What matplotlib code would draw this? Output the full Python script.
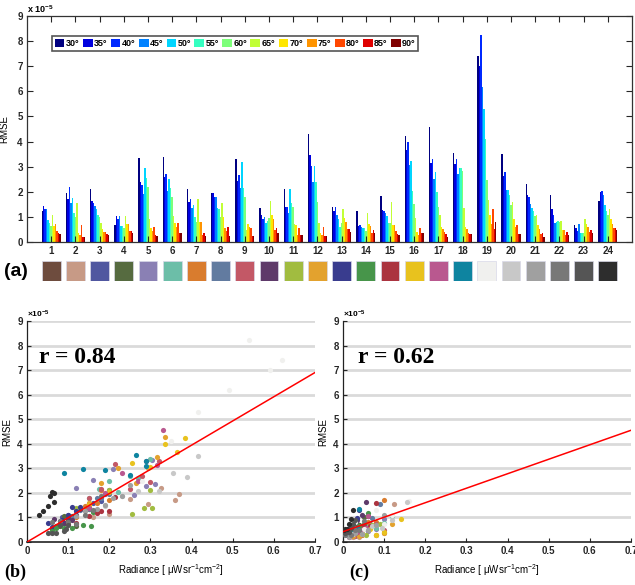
import numpy as np
import matplotlib.pyplot as plt

plt.rcParams['font.family'] = ['Liberation Sans', 'DejaVu Sans']
plt.rcParams['font.weight'] = 'bold'
plt.rcParams['mathtext.default'] = 'regular'
plt.rcParams['axes.linewidth'] = 0.9

# viewing angles, one bar per angle inside each group
angles = [30, 35, 40, 45, 50, 55, 60, 65, 70, 75, 80, 85, 90]
groups = np.arange(1, 25)

# RMSE (x 1e-5), one row per group, one column per angle
rmse = np.array([
    [1.25, 1.44, 1.33, 1.33, 0.88, 0.77, 0.64, 1.07, 0.64, 0.70, 0.45, 0.35, 0.32],
    [1.94, 1.70, 2.20, 1.54, 1.74, 1.14, 1.00, 1.54, 0.37, 0.28, 0.66, 0.19, 0.19],
    [2.11, 1.65, 1.57, 1.43, 1.30, 1.08, 1.00, 0.74, 0.52, 0.41, 0.39, 0.32, 0.28],
    [0.66, 1.04, 0.90, 1.04, 0.64, 0.64, 0.54, 1.02, 0.70, 0.73, 0.45, 0.42, 0.37],
    [3.33, 2.38, 2.27, 1.91, 2.96, 2.54, 2.20, 0.93, 0.54, 0.45, 0.58, 0.26, 0.24],
    [3.37, 2.60, 2.70, 2.05, 2.50, 2.14, 1.78, 1.04, 0.77, 0.58, 0.74, 0.35, 0.35],
    [2.10, 1.60, 1.70, 1.34, 1.47, 1.00, 0.81, 1.70, 0.81, 0.81, 0.28, 0.37, 0.24],
    [1.97, 1.94, 1.80, 1.80, 1.34, 1.30, 0.98, 1.54, 0.98, 0.54, 0.44, 0.61, 0.24],
    [3.30, 2.44, 2.67, 2.14, 3.18, 2.14, 1.78, 0.48, 0.72, 0.58, 0.54, 0.24, 0.24],
    [1.34, 1.08, 0.90, 0.98, 0.77, 0.85, 0.94, 1.64, 1.08, 0.90, 0.48, 0.54, 0.35],
    [2.12, 1.38, 1.38, 1.14, 2.11, 1.57, 1.38, 0.72, 0.68, 0.28, 0.54, 0.27, 0.27],
    [4.29, 3.45, 3.03, 2.40, 3.03, 2.40, 1.60, 0.74, 0.35, 0.28, 0.58, 0.24, 0.24],
    [1.41, 1.25, 1.41, 1.08, 0.90, 0.61, 0.77, 1.31, 0.96, 0.81, 0.52, 0.52, 0.41],
    [1.22, 0.64, 0.69, 0.58, 0.56, 0.56, 0.45, 1.17, 0.72, 0.64, 0.37, 0.48, 0.35],
    [1.83, 1.27, 1.25, 1.17, 1.04, 0.77, 0.74, 1.58, 0.66, 0.66, 0.42, 0.32, 0.27],
    [4.22, 3.65, 4.00, 3.05, 3.22, 2.05, 1.50, 0.94, 0.41, 0.28, 0.54, 0.37, 0.37],
    [4.57, 3.14, 3.30, 2.50, 2.80, 2.00, 1.40, 1.07, 0.58, 0.50, 0.40, 0.32, 0.19],
    [3.53, 3.11, 3.30, 2.71, 2.93, 2.96, 2.83, 1.34, 0.58, 0.50, 0.37, 0.32, 0.32],
    [7.41, 6.99, 8.24, 6.17, 5.30, 4.10, 2.48, 1.68, 1.09, 0.73, 1.31, 0.52, 0.80],
    [3.49, 2.63, 2.80, 2.09, 2.09, 1.87, 1.47, 1.61, 0.90, 0.58, 0.66, 0.32, 0.32],
    [2.31, 1.86, 1.78, 1.51, 1.34, 1.25, 1.04, 1.08, 0.68, 0.50, 0.32, 0.37, 0.21],
    [1.86, 1.30, 1.09, 0.74, 0.81, 0.85, 0.81, 0.85, 0.48, 0.48, 0.28, 0.41, 0.28],
    [0.68, 0.54, 0.45, 0.70, 0.35, 0.35, 0.37, 0.90, 0.72, 0.58, 0.41, 0.48, 0.37],
    [1.63, 2.00, 2.05, 1.86, 1.47, 1.25, 1.08, 1.30, 0.93, 0.72, 0.54, 0.54, 0.48],
])

# radiance (uW sr-1 cm-2), same layout as rmse
radiance = np.array([
    [0.160, 0.150, 0.130, 0.120, 0.100, 0.090, 0.075, 0.060, 0.050, 0.040, 0.030, 0.020, 0.012],
    [0.370, 0.360, 0.325, 0.295, 0.250, 0.200, 0.160, 0.125, 0.100, 0.080, 0.060, 0.040, 0.025],
    [0.200, 0.180, 0.160, 0.145, 0.120, 0.100, 0.085, 0.065, 0.050, 0.040, 0.030, 0.020, 0.010],
    [0.120, 0.110, 0.100, 0.090, 0.080, 0.070, 0.060, 0.050, 0.040, 0.033, 0.025, 0.015, 0.010],
    [0.305, 0.310, 0.290, 0.260, 0.210, 0.160, 0.120, 0.100, 0.080, 0.060, 0.045, 0.030, 0.020],
    [0.300, 0.270, 0.250, 0.220, 0.200, 0.175, 0.150, 0.120, 0.100, 0.080, 0.060, 0.040, 0.025],
    [0.180, 0.170, 0.200, 0.150, 0.140, 0.120, 0.100, 0.100, 0.080, 0.060, 0.045, 0.030, 0.020],
    [0.200, 0.190, 0.180, 0.170, 0.150, 0.130, 0.110, 0.090, 0.070, 0.055, 0.040, 0.025, 0.015],
    [0.320, 0.300, 0.280, 0.250, 0.215, 0.180, 0.150, 0.100, 0.080, 0.060, 0.045, 0.030, 0.020],
    [0.130, 0.120, 0.110, 0.100, 0.090, 0.080, 0.065, 0.055, 0.045, 0.035, 0.025, 0.018, 0.010],
    [0.300, 0.305, 0.285, 0.255, 0.200, 0.150, 0.120, 0.090, 0.070, 0.055, 0.040, 0.025, 0.015],
    [0.335, 0.315, 0.295, 0.265, 0.220, 0.180, 0.150, 0.120, 0.100, 0.080, 0.060, 0.040, 0.025],
    [0.130, 0.120, 0.110, 0.100, 0.085, 0.060, 0.050, 0.040, 0.035, 0.030, 0.020, 0.015, 0.010],
    [0.160, 0.155, 0.135, 0.110, 0.090, 0.070, 0.060, 0.060, 0.050, 0.040, 0.030, 0.020, 0.012],
    [0.215, 0.200, 0.180, 0.170, 0.150, 0.120, 0.100, 0.080, 0.065, 0.050, 0.035, 0.025, 0.015],
    [0.385, 0.365, 0.335, 0.300, 0.255, 0.200, 0.150, 0.140, 0.100, 0.080, 0.065, 0.045, 0.025],
    [0.330, 0.315, 0.290, 0.270, 0.230, 0.190, 0.150, 0.060, 0.055, 0.045, 0.035, 0.025, 0.015],
    [0.265, 0.290, 0.290, 0.250, 0.190, 0.135, 0.090, 0.040, 0.035, 0.030, 0.020, 0.015, 0.010],
    [0.620, 0.590, 0.540, 0.490, 0.415, 0.350, 0.280, 0.160, 0.120, 0.100, 0.080, 0.050, 0.030],
    [0.415, 0.390, 0.355, 0.320, 0.270, 0.230, 0.190, 0.155, 0.120, 0.095, 0.070, 0.045, 0.025],
    [0.250, 0.230, 0.210, 0.190, 0.170, 0.140, 0.120, 0.100, 0.080, 0.060, 0.045, 0.030, 0.015],
    [0.180, 0.160, 0.140, 0.120, 0.100, 0.080, 0.060, 0.050, 0.040, 0.030, 0.020, 0.012, 0.006],
    [0.100, 0.095, 0.090, 0.080, 0.070, 0.060, 0.050, 0.030, 0.025, 0.020, 0.015, 0.010, 0.005],
    [0.065, 0.065, 0.060, 0.055, 0.050, 0.040, 0.030, 0.025, 0.020, 0.015, 0.010, 0.006, 0.003],
])

# one identifying colour per group
group_colors = [
    '#6e4c3e', '#c79a86', '#5057a0', '#566b40', '#8a80b4', '#6cbea8',
    '#d97c2e', '#627ba0', '#c35866', '#5e3a6a', '#a1bc40', '#e3a22e',
    '#393c8e', '#47954a', '#ab3440', '#e8c21e', '#b9588f', '#0e84a0',
    '#f0f0ee', '#c8c8c8', '#a0a0a0', '#787878', '#555555', '#2d2d2d',
]

# linear fits (slope, intercept) and correlation for low / high angles
fit_low = (9.86, 0.0)
fit_high = (5.9, 0.42)
r_low = 0.84
r_high = 0.62
n_low = 7  # 30..60 deg go to panel (b), the rest to (c)

W, H = 635, 585
fig = plt.figure(figsize=(W / 100, H / 100), dpi=100)
tick_col = '#262626'


def px_axes(left, top, right, bottom):
    return fig.add_axes([left / W, 1 - bottom / H, (right - left) / W, (bottom - top) / H])


# ---- (a) grouped bars ----
ax = px_axes(27, 16, 632, 242)
n = len(angles)
w = 0.8 / n
bar_colors = plt.cm.jet(np.linspace(0, 1, n))
for j, a in enumerate(angles):
    ax.bar(groups - 0.4 + w * (j + 0.5), rmse[:, j], width=w, color=bar_colors[j],
           linewidth=0, label='%d°' % a)
ax.set_xlim(0, 25)
ax.set_ylim(0, 9)
ax.set_xticks(groups)
ax.set_yticks(range(10))
ax.tick_params(direction='in', top=True, right=True, labelsize=7, length=4,
               width=0.8, colors=tick_col, pad=3)
for s in ax.spines.values():
    s.set_color('#333333')
ax.set_ylabel('RMSE', fontsize=7, labelpad=6)
ax.text(0, 1.005, r'x 10$^{-5}$', transform=ax.transAxes, fontsize=6.5, va='bottom')
leg = ax.legend(ncol=13, loc='upper left', bbox_to_anchor=(0.041, 0.912), fontsize=6.5,
                handlelength=1.1, handleheight=1.1, handletextpad=0.15, columnspacing=0.35,
                borderpad=0.3, borderaxespad=0, fancybox=False, edgecolor='#555555',
                framealpha=1)
leg.get_frame().set_linewidth(1.2)

# colour key under the bars
sw = px_axes(27, 261, 632, 281)
sw.bar(groups, 1, width=0.78, bottom=0, color=group_colors, edgecolor='#d8d8e8', linewidth=0.5)
sw.set_xlim(0, 25)
sw.set_ylim(0, 1)
sw.axis('off')
fig.text(4 / W, 1 - 271 / H, '(a)', fontsize=14, fontweight='bold', va='center',
         family=['Liberation Sans Narrow', 'Liberation Sans'])


# ---- (b), (c) scatter of RMSE against radiance ----
def scatter_panel(axs, cols, fit, r, r_x, tag, tag_x):
    for g in range(len(groups)):
        axs.scatter(radiance[g, cols], rmse[g, cols], s=14, color=group_colors[g],
                    linewidths=0, zorder=3)
    xs = np.array([0, 0.7])
    axs.plot(xs, fit[0] * xs + fit[1], color='#ff0000', lw=1.1, zorder=4)
    for y in range(1, 10):
        axs.axhline(y, color='#dadada', lw=2, zorder=1)
    axs.set_xlim(0, 0.7)
    axs.set_ylim(0, 9)
    axs.set_xticks(np.arange(0, 0.71, 0.1))
    axs.set_xticklabels(['0'] + ['%.1f' % v for v in np.arange(0.1, 0.71, 0.1)])
    axs.set_yticks(range(10))
    axs.spines['top'].set_visible(False)
    axs.spines['right'].set_visible(False)
    axs.spines['left'].set_color('#222222')
    axs.spines['bottom'].set_color('#222222')
    axs.spines['bottom'].set_linewidth(1.2)
    axs.tick_params(direction='in', labelsize=7, length=3, width=0.8,
                    colors=tick_col, pad=3)
    axs.set_ylabel('RMSE', fontsize=7, labelpad=4)
    axs.set_xlabel(r'Radiance [ $\mu$Wsr$^{-1}$cm$^{-2}$]', fontsize=7, labelpad=4)
    axs.text(0, 1.005, r'$\times$10$^{-5}$', transform=axs.transAxes, fontsize=6,
             va='bottom')
    axs.text(r_x, 7.5, 'r = %.2f' % r, fontsize=17, fontweight='bold', va='center',
             family=['Liberation Serif', 'DejaVu Serif'], zorder=5)
    fig.text(tag_x / W, 1 - 572 / H, tag, fontsize=13, fontweight='bold', va='center',
             family=['Liberation Serif', 'DejaVu Serif'])


axb = px_axes(27, 321, 315, 542)
scatter_panel(axb, slice(0, n_low), fit_low, r_low, 0.029, '(b)', 4)
axc = px_axes(343, 321, 631, 542)
scatter_panel(axc, slice(n_low, n), fit_high, r_high, 0.037, '(c)', 349)

fig.savefig('out.png', dpi=100)
